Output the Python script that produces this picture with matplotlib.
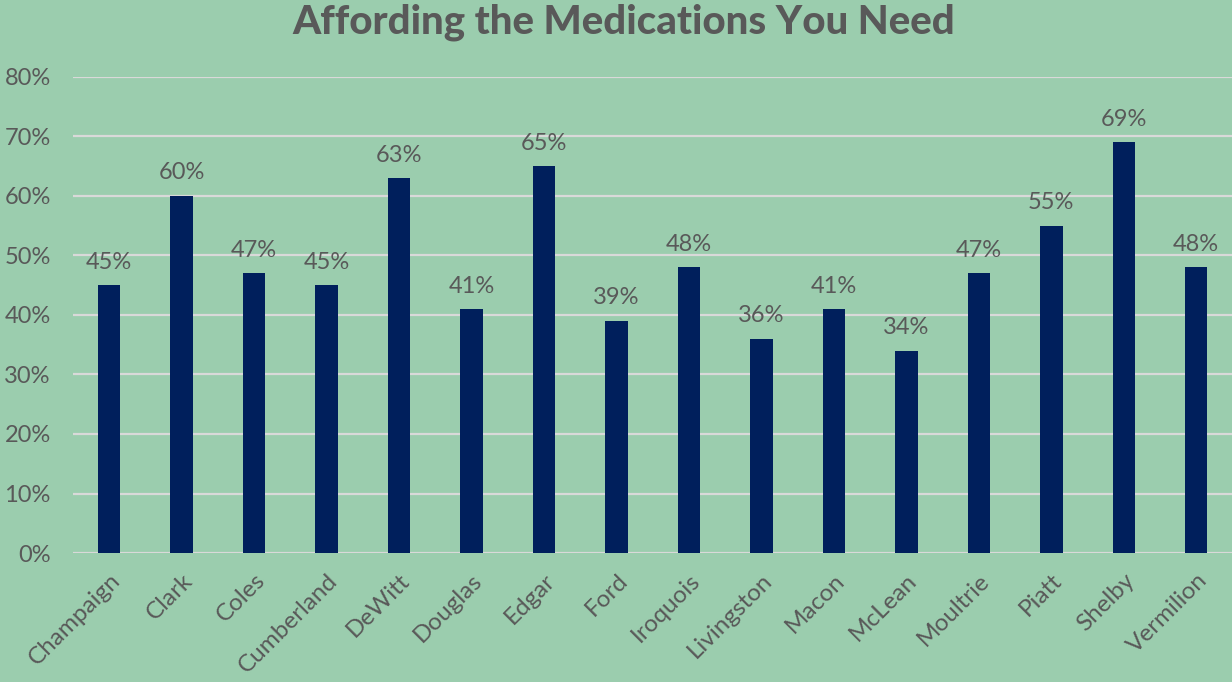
import matplotlib.pyplot as plt

# county-level share reporting trouble affording medications
counties = ['Champaign', 'Clark', 'Coles', 'Cumberland', 'DeWitt', 'Douglas', 'Edgar', 'Ford',
            'Iroquois', 'Livingston', 'Macon', 'McLean', 'Moultrie', 'Piatt', 'Shelby', 'Vermilion']
pct = [45, 60, 47, 45, 63, 41, 65, 39, 48, 36, 41, 34, 47, 55, 69, 48]
yticks = [0, 10, 20, 30, 40, 50, 60, 70, 80]

BG = '#9BCDAE'
BAR = '#001F5C'
TXT = '#595959'

plt.rcParams['font.family'] = ['Lato', 'DejaVu Sans']

fig = plt.figure(figsize=(12.32, 6.82), dpi=100, facecolor=BG)
ax = fig.add_axes([73 / 1232, 1 - 553 / 682, 1159.5 / 1232, 476 / 682])
ax.set_facecolor(BG)

x = list(range(len(counties)))
ax.bar(x, pct, width=0.31, color=BAR, zorder=3)
for xi, v in zip(x, pct):
    ax.annotate(f'{v}%', (xi, v), xytext=(0, 9), textcoords='offset points',
                ha='center', va='bottom', fontsize=17, color=TXT)

ax.set_xlim(-0.5, len(counties) - 0.5)
ax.set_ylim(0, 80)
ax.set_yticks(yticks)
ax.set_yticklabels([f'{t}%' for t in yticks], fontsize=17, color=TXT)
ax.set_xticks(x)
ax.set_xticklabels(counties, rotation=45, ha='right', rotation_mode='anchor',
                   fontsize=17.5, color=TXT)
ax.tick_params(axis='x', length=0, pad=12)
ax.tick_params(axis='y', length=0, pad=16)
ax.grid(axis='y', color='#D9D9D9', linewidth=1.6, zorder=0)
for s in ax.spines.values():
    s.set_visible(False)

fig.text(0.506, 0.968, 'Affording the Medications You Need', ha='center', va='center',
         fontsize=29, fontweight='black', color=TXT)

fig.savefig('out.png', dpi=100, facecolor=BG)
